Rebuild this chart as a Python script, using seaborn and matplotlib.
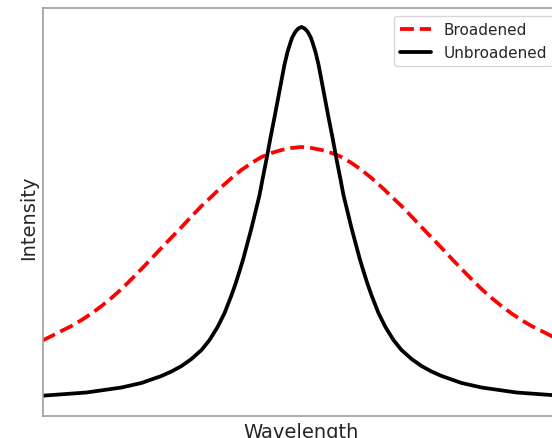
import matplotlib
matplotlib.use("Agg")
import matplotlib.pyplot as plt
import seaborn as sns

# Line profiles: wavelength offset from line centre (arbitrary units)
# and normalised intensity.
unbroadened_wavelength = [
    -10.0, -8.30, -6.95, -6.18, -5.41, -5.02, -4.63, -4.25, -3.86, -3.55,
    -3.24, -2.97, -2.70, -2.55, -2.39, -2.24, -2.09, -1.93, -1.78, -1.62,
    -1.51, -1.35, -1.20, -1.04, -0.89, -0.77, -0.66, -0.54, -0.42, -0.35,
    -0.23, -0.12,
    0.0,
    0.12, 0.23, 0.35, 0.42, 0.54, 0.66, 0.77, 0.89, 1.04, 1.20,
    1.35, 1.51, 1.62, 1.78, 1.93, 2.09, 2.24, 2.39, 2.55, 2.70,
    2.97, 3.24, 3.55, 3.86, 4.25, 4.63, 5.02, 5.41, 6.18, 6.95,
    8.30, 10.0,
]
unbroadened_intensity = [
    0.0348, 0.0432, 0.0563, 0.0681, 0.0864, 0.0982, 0.1126, 0.1309, 0.1545, 0.1806,
    0.2147, 0.2513, 0.2984, 0.3272, 0.3613, 0.3953, 0.4332, 0.4738, 0.5157, 0.5602,
    0.5995, 0.6545, 0.7094, 0.7644, 0.8181, 0.8613, 0.9005, 0.9346, 0.9607, 0.9738,
    0.9882, 0.9961,
    1.0000,
    0.9961, 0.9882, 0.9738, 0.9607, 0.9346, 0.9005, 0.8613, 0.8181, 0.7644, 0.7094,
    0.6545, 0.5995, 0.5602, 0.5157, 0.4738, 0.4332, 0.3953, 0.3613, 0.3272, 0.2984,
    0.2513, 0.2147, 0.1806, 0.1545, 0.1309, 0.1126, 0.0982, 0.0864, 0.0681, 0.0563,
    0.0432, 0.0348,
]

broadened_wavelength = [
    -10.0, -9.65, -9.27, -8.88, -8.49, -8.11, -7.72, -7.34, -6.95, -6.56,
    -6.18, -5.79, -5.41, -5.02, -4.63, -4.25, -3.86, -3.47, -3.09, -2.70,
    -2.32, -1.93, -1.54, -1.16, -0.77, -0.39,
    0.0,
    0.39, 0.77, 1.16, 1.54, 1.93, 2.32, 2.70, 3.09, 3.47, 3.86,
    4.25, 4.63, 5.02, 5.41, 5.79, 6.18, 6.56, 6.95, 7.34, 7.72,
    8.11, 8.49, 8.88, 9.27, 9.65, 10.0,
]
broadened_intensity = [
    0.1793, 0.1911, 0.2042, 0.2173, 0.2330, 0.2500, 0.2696, 0.2906, 0.3141, 0.3403,
    0.3665, 0.3940, 0.4215, 0.4490, 0.4764, 0.5039, 0.5314, 0.5563, 0.5812, 0.6047,
    0.6257, 0.6440, 0.6597, 0.6702, 0.6780, 0.6832,
    0.6859,
    0.6832, 0.6780, 0.6702, 0.6597, 0.6440, 0.6257, 0.6047, 0.5812, 0.5563, 0.5314,
    0.5039, 0.4764, 0.4490, 0.4215, 0.3940, 0.3665, 0.3403, 0.3141, 0.2906, 0.2696,
    0.2500, 0.2330, 0.2173, 0.2042, 0.1911, 0.1793,
]

sns.set_style("white")

fig = plt.figure(figsize=(5.52, 4.39), dpi=100)
ax = fig.add_axes([0.0770, 0.0490, 0.9384, 0.9294])

sns.lineplot(x=broadened_wavelength, y=broadened_intensity, ax=ax,
             color="red", linestyle="--", linewidth=2.7, label="Broadened")
sns.lineplot(x=unbroadened_wavelength, y=unbroadened_intensity, ax=ax,
             color="black", linewidth=2.7, label="Unbroadened")

ax.set_xlim(-10, 10)
ax.set_ylim(-0.0196, 1.0484)
ax.set_xticks([])
ax.set_yticks([])
ax.set_xlabel("Wavelength", fontsize=14, labelpad=4)
ax.set_ylabel("Intensity", fontsize=14)
ax.yaxis.set_label_coords(-0.009, 0.49)

for spine in ax.spines.values():
    spine.set_color("0.62")
    spine.set_linewidth(1.2)

ax.legend(loc="upper right", fontsize=11, handlelength=2.0)

fig.savefig("out.png", dpi=100)
